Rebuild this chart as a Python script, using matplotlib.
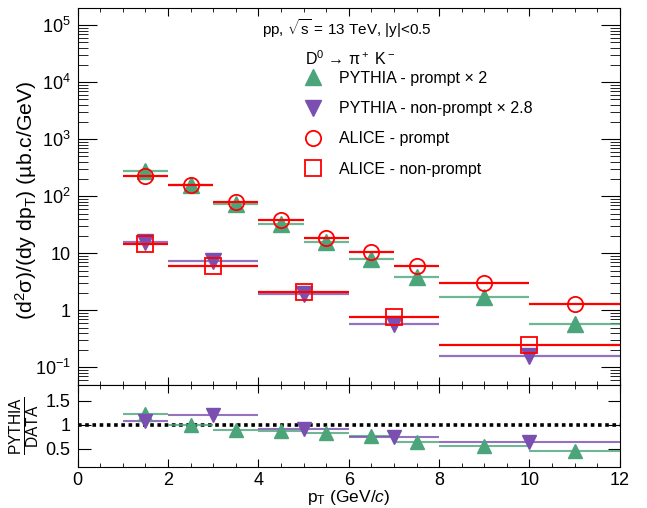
import numpy as np
import matplotlib
matplotlib.use('Agg')
import matplotlib.pyplot as plt
from matplotlib.lines import Line2D
from matplotlib.ticker import FixedLocator, NullFormatter, MultipleLocator, LogLocator

plt.rcParams['font.family'] = ['Liberation Sans', 'DejaVu Sans']
plt.rcParams['mathtext.fontset'] = 'custom'
plt.rcParams['mathtext.rm'] = 'Liberation Sans'
plt.rcParams['mathtext.it'] = 'Liberation Sans:italic'
plt.rcParams['mathtext.bf'] = 'Liberation Sans:bold'

# prompt D0: pT bins and cross sections
prompt_lo = np.array([1, 2, 3, 4, 5, 6, 7, 8, 10])
prompt_hi = np.array([2, 3, 4, 5, 6, 7, 8, 10, 12])
alice_prompt = np.array([230, 155, 80, 37.8, 18.9, 10.6, 6.06, 3.03, 1.27])
pythia_prompt = np.array([280, 155, 72, 32.5, 15.6, 8.0, 3.85, 1.71, 0.58])

# non-prompt D0
nonprompt_lo = np.array([1, 2, 4, 6, 8])
nonprompt_hi = np.array([2, 4, 6, 8, 12])
alice_nonprompt = np.array([14.6, 6.0, 2.14, 0.77, 0.243])
pythia_nonprompt = np.array([15.8, 7.25, 1.96, 0.58, 0.157])

ytick_vals = [1e-1, 1, 10, 1e2, 1e3, 1e4, 1e5]
ytick_labels = [r'10$^{-1}$', '1', '10', r'10$^{2}$', r'10$^{3}$', r'10$^{4}$', r'10$^{5}$']

green = '#4ba47a'
purple = '#7a4fb0'
red = '#ff0000'

x_p = (prompt_lo + prompt_hi) / 2
xe_p = (prompt_hi - prompt_lo) / 2
x_np = (nonprompt_lo + nonprompt_hi) / 2
xe_np = (nonprompt_hi - nonprompt_lo) / 2

fig = plt.figure(figsize=(6.47, 5.08), dpi=100)
ax = fig.add_axes([0.120, 0.242, 0.838, 0.742])
ax2 = fig.add_axes([0.120, 0.081, 0.838, 0.161], sharex=ax)

# top panel
ax.errorbar(x_p, pythia_prompt, xerr=xe_p, fmt='^', color=green, ms=11,
            ecolor=matplotlib.colors.to_rgba(green, 0.8), elinewidth=1.6, capsize=0, zorder=3)
ax.errorbar(x_np, pythia_nonprompt, xerr=xe_np, fmt='v', color=purple, ms=11,
            ecolor=matplotlib.colors.to_rgba(purple, 0.8), elinewidth=1.6, capsize=0, zorder=3)
ax.errorbar(x_p, alice_prompt, xerr=xe_p, fmt='o', mfc='none', mec=red, mew=1.3, ms=11,
            ecolor=red, elinewidth=1.6, capsize=0, zorder=4)
ax.errorbar(x_np, alice_nonprompt, xerr=xe_np, fmt='s', mfc='none', mec=red, mew=1.3, ms=11,
            ecolor=red, elinewidth=1.6, capsize=0, zorder=4)

ax.set_yscale('log')
ax.set_ylim(0.049, 2e5)
ax.set_xlim(0, 12)
ax.yaxis.set_major_locator(FixedLocator(ytick_vals))
ax.set_yticklabels(ytick_labels)
ax.yaxis.set_minor_locator(LogLocator(base=10, subs=np.arange(2, 10), numticks=20))
ax.yaxis.set_minor_formatter(NullFormatter())
ax.xaxis.set_major_locator(MultipleLocator(2))
ax.xaxis.set_minor_locator(MultipleLocator(0.5))
ax.tick_params(which='both', direction='in', top=True, right=True, labelsize=13)
ax.tick_params(axis='y', which='major', length=14, pad=5)
ax.tick_params(axis='y', which='minor', length=7)
ax.tick_params(axis='x', which='major', length=6)
ax.tick_params(axis='x', which='minor', length=3)
plt.setp(ax.get_xticklabels(), visible=False)
ax.set_ylabel('(d$^2$\u03c3)/(dy dp$_\\mathrm{T}$) (\u00b5b.c/GeV)', fontsize=15.3)
ax.yaxis.set_label_coords(-0.071, 0.49)

ax.text(0.34, 0.947, r'pp, $\sqrt{\mathrm{s}}$ = 13 TeV, |y|<0.5', transform=ax.transAxes,
        fontsize=11, va='center', ha='left')
ax.text(0.419, 0.867, 'D$^0$ \u2192 \u03c0$^+$ K$^-$', transform=ax.transAxes,
        fontsize=11.5, va='center', ha='left')

handles = [
    Line2D([], [], marker='^', color=green, ls='none', ms=11),
    Line2D([], [], marker='v', color=purple, ls='none', ms=11),
    Line2D([], [], marker='o', mfc='none', mec=red, mew=1.3, ls='none', ms=11),
    Line2D([], [], marker='s', mfc='none', mec=red, mew=1.3, ls='none', ms=11),
]
labels = ['PYTHIA - prompt \u00d7 2', 'PYTHIA - non-prompt \u00d7 2.8',
          'ALICE - prompt', 'ALICE - non-prompt']
leg = ax.legend(handles, labels, loc='upper left', bbox_to_anchor=(0.405, 0.833),
                frameon=False, fontsize=11.5, labelspacing=0.95, handletextpad=0.6,
                borderaxespad=0, borderpad=0)

# ratio panel
ratio_p = pythia_prompt / alice_prompt
ratio_np = pythia_nonprompt / alice_nonprompt
ax2.axhline(1, color='black', ls=(0, (1, 1)), lw=2.6, zorder=2)
ax2.errorbar(x_p, ratio_p, xerr=xe_p, fmt='^', color=green, ms=10,
             ecolor=matplotlib.colors.to_rgba(green, 0.8), elinewidth=1.5, capsize=0, zorder=3)
ax2.errorbar(x_np, ratio_np, xerr=xe_np, fmt='v', color=purple, ms=10,
             ecolor=matplotlib.colors.to_rgba(purple, 0.8), elinewidth=1.5, capsize=0, zorder=3)
ax2.set_ylim(0.12, 1.83)
ax2.yaxis.set_major_locator(FixedLocator([0.5, 1, 1.5]))
ax2.set_yticklabels(['0.5', '1', '1.5'])
ax2.tick_params(which='both', direction='in', top=True, right=True, labelsize=13)
ax2.tick_params(axis='y', which='major', length=9, pad=5)
ax2.tick_params(axis='x', which='major', length=6, pad=4)
ax2.tick_params(axis='x', which='minor', length=3)
ax2.set_xlim(0, 12)
ax2.set_ylabel(r'$\frac{\mathrm{PYTHIA}}{\mathrm{DATA}}$', fontsize=16)
ax2.yaxis.set_label_coords(-0.066, 0.5)
ax2.set_xlabel(r'p$_\mathrm{T}$ (GeV/$c$)', fontsize=12.5)
ax2.xaxis.set_label_coords(0.5, -0.26)

fig.savefig('out.png', dpi=100)
